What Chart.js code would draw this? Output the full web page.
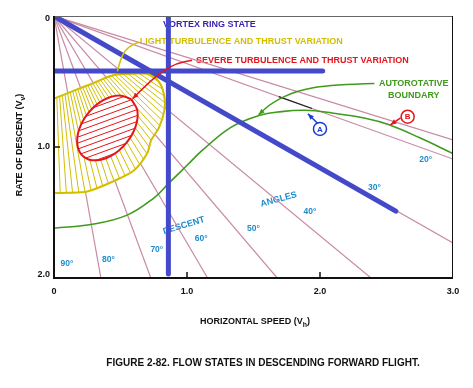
<!DOCTYPE html>
<html>
<head>
<meta charset="utf-8">
<script src="https://cdn.jsdelivr.net/npm/chart.js@4.4.1/dist/chart.umd.min.js"></script>
<style>html,body{margin:0;padding:0;background:#fff}canvas{display:block}</style>
</head>
<body>
<canvas id="flow_states_chart" width="473" height="388"></canvas>
<script>
// axes
const xTicks = [0, 1, 2, 3];
const xTickLabels = ['0', '1.0', '2.0', '3.0'];
const yTicks = [0, 1, 2];
const yTickLabels = ['0', '1.0', '2.0'];

// descent angle lines (deg below horizontal) and their labels
const descentAngles = [17.5, 20, 30, 40, 50, 60, 70, 80];
const angleLabels = ['20°', '30°', '40°', '50°', '60°', '70°', '80°', '90°'];

// vortex ring state boundaries
const vrsDiagonal = [[0, 0], [2.57, 1.49]];
const vrsHorizontal = [[0, 0.42], [2.02, 0.42]];
const vrsVertical = [[0.86, 0], [0.86, 1.97]];

// autorotative boundary
const autorotX = [0, 0.29, 0.55, 0.75, 0.86, 1.01, 1.11, 1.33, 1.54, 1.71, 1.89, 2.09, 2.34, 2.52, 2.75, 3.0];
const autorotY = [1.62, 1.59, 1.52, 1.39, 1.28, 1.13, 1.03, 0.85, 0.76, 0.73, 0.72, 0.74, 0.78, 0.83, 0.93, 1.05];

// light turbulence region outline
const lightX = [0, 0.15, 0.30, 0.45, 0.60, 0.73, 0.80, 0.83, 0.83, 0.79, 0.73, 0.70, 0.60, 0.45, 0.25, 0.10, 0];
const lightY = [0.63, 0.57, 0.51, 0.45, 0.44, 0.45, 0.52, 0.62, 0.72, 0.85, 0.95, 1.05, 1.18, 1.26, 1.34, 1.35, 1.35];

// severe turbulence region outline
const severeX = [0.582, 0.627, 0.612, 0.541, 0.432, 0.315, 0.221, 0.176, 0.191, 0.262, 0.371, 0.488, 0.582];
const severeY = [0.636, 0.725, 0.848, 0.972, 1.066, 1.102, 1.072, 0.983, 0.860, 0.735, 0.642, 0.606, 0.636];

// dark stretch of the 20 deg line near point A
const darkStretch = [1.69, 1.94];

const BLUE = '#4349c9';
const PINK = '#c98aa6';
const YELLOW = '#d2be00';
const RED = '#e3161c';
const GREEN = '#3f9a1e';
const CYAN = '#1f8cce';
const FONT = '"Liberation Sans", Arial, sans-serif';

const textLabels = [
    { t: 'VORTEX RING STATE', x: 0.82, y: 0.062, c: '#3b1fae', align: 'left' },
    { t: 'LIGHT TURBULENCE AND THRUST VARIATION', x: 0.644, y: 0.196, c: YELLOW, align: 'left' },
    { t: 'SEVERE TURBULENCE AND THRUST VARIATION', x: 1.068, y: 0.338, c: RED, align: 'left' },
    { t: 'AUTOROTATIVE', x: 2.705, y: 0.519, c: GREEN, align: 'center' },
    { t: 'BOUNDARY', x: 2.705, y: 0.604, c: GREEN, align: 'center' },
    { t: 'DESCENT', x: 0.977, y: 1.6, c: CYAN, align: 'center', rot: -17 },
    { t: 'ANGLES', x: 1.689, y: 1.4, c: CYAN, align: 'center', rot: -15 }
];
const angleLabelPos = [[2.795, 1.10], [2.409, 1.308], [1.924, 1.492], [1.5, 1.623], [1.106, 1.70], [0.773, 1.785], [0.409, 1.862], [0.098, 1.892]];

const leaders = [
    { pts: [[0.591, 0.631], [0.712, 0.508], [0.826, 0.415], [0.924, 0.362], [1.038, 0.338]], c: RED, head: 'start' },
    { pts: [[0.477, 0.423], [0.5, 0.323], [0.553, 0.238], [0.636, 0.2]], c: YELLOW },
    { pts: [[2.409, 0.515], [2.091, 0.523], [1.826, 0.569], [1.636, 0.662], [1.538, 0.754]], c: GREEN, head: 'end' },
    { pts: [[1.985, 0.823], [1.909, 0.746]], c: '#1b3dcf', head: 'end' },
    { pts: [[2.606, 0.777], [2.530, 0.831]], c: RED, head: 'end' }
];
const markers = [
    { t: 'A', x: 2.0, y: 0.862, c: '#1b3dcf' },
    { t: 'B', x: 2.659, y: 0.769, c: RED }
];

const toPts = (xs, ys) => xs.map((x, i) => ({ x: x, y: ys[i] }));
const pairs = (arr) => arr.map((p) => ({ x: p[0], y: p[1] }));

function angleLine(a) {
    const t = Math.tan(a * Math.PI / 180);
    const xEnd = Math.min(3, 2 / t);
    return [{ x: 0, y: 0 }, { x: xEnd, y: xEnd * t }];
}

const datasets = [];
[vrsDiagonal, vrsHorizontal, vrsVertical].forEach((l) => {
    datasets.push({ label: 'vrs', data: pairs(l), borderColor: BLUE, borderWidth: 5, borderCapStyle: 'round', order: 0 });
});
datasets.push({ label: 'severe', data: toPts(severeX, severeY), borderColor: RED, borderWidth: 2, tension: 0.4, fill: 'shape', backgroundColor: '#ffffff', order: 1 });
datasets.push({ label: 'light', data: toPts(lightX, lightY), borderColor: YELLOW, borderWidth: 2, tension: 0.3, fill: 'shape', backgroundColor: '#ffffff', order: 2 });
datasets.push({ label: 'autorot', data: toPts(autorotX, autorotY), borderColor: GREEN, borderWidth: 1.6, tension: 0.4, order: 3 });
const t20 = Math.tan(20 * Math.PI / 180);
datasets.push({ label: 'dark', data: darkStretch.map((x) => ({ x: x, y: x * t20 })), borderColor: '#222', borderWidth: 1.2, order: 4 });
descentAngles.forEach((a) => {
    datasets.push({ label: 'angle', data: angleLine(a), borderColor: PINK, borderWidth: 1.2, order: 5 });
});

function hatch(chart, meta, kind) {
    const ctx = chart.ctx;
    const a = chart.chartArea;
    const xs = chart.scales.x, ys = chart.scales.y;
    ctx.save();
    ctx.beginPath();
    ctx.rect(a.left, a.top, a.right - a.left, a.bottom - a.top);
    ctx.clip();
    ctx.beginPath();
    meta.dataset.path(ctx);
    ctx.closePath();
    ctx.clip();
    ctx.lineWidth = 1;
    ctx.beginPath();
    if (kind === 'light') {
        ctx.strokeStyle = YELLOW;
        const ox = xs.getPixelForValue(0), oy = ys.getPixelForValue(0);
        for (let ang = 26; ang <= 90; ang += 2) {
            const r = ang * Math.PI / 180;
            ctx.moveTo(ox, oy);
            ctx.lineTo(ox + 400 * Math.cos(r), oy + 400 * Math.sin(r));
        }
    } else {
        ctx.strokeStyle = RED;
        const pts = meta.data;
        let cx = 0, cy = 0;
        pts.forEach((p) => { cx += p.x; cy += p.y; });
        cx /= pts.length; cy /= pts.length;
        const r = -20 * Math.PI / 180;
        const dx = Math.cos(r), dy = Math.sin(r);
        for (let k = -12; k <= 12; k++) {
            const px = cx - dy * k * 5.6, py = cy + dx * k * 5.6;
            ctx.moveTo(px - dx * 80, py - dy * 80);
            ctx.lineTo(px + dx * 80, py + dy * 80);
        }
    }
    ctx.stroke();
    ctx.restore();
}

function arrowHead(ctx, fx, fy, tx, ty, color) {
    const ang = Math.atan2(ty - fy, tx - fx);
    ctx.fillStyle = color;
    ctx.beginPath();
    ctx.moveTo(tx, ty);
    ctx.lineTo(tx - 6 * Math.cos(ang) + 2.5 * Math.sin(ang), ty - 6 * Math.sin(ang) - 2.5 * Math.cos(ang));
    ctx.lineTo(tx - 6 * Math.cos(ang) - 2.5 * Math.sin(ang), ty - 6 * Math.sin(ang) + 2.5 * Math.cos(ang));
    ctx.closePath();
    ctx.fill();
}

function subText(ctx, parts, x, y, size) {
    ctx.font = 'bold ' + size + 'px ' + FONT;
    const w0 = ctx.measureText(parts[0]).width;
    const w2 = ctx.measureText(parts[2]).width;
    ctx.font = 'bold ' + (size - 2) + 'px ' + FONT;
    const w1 = ctx.measureText(parts[1]).width;
    let sx = x - (w0 + w1 + w2) / 2;
    ctx.textAlign = 'left';
    ctx.textBaseline = 'middle';
    ctx.font = 'bold ' + size + 'px ' + FONT;
    ctx.fillText(parts[0], sx, y);
    ctx.font = 'bold ' + (size - 2) + 'px ' + FONT;
    ctx.fillText(parts[1], sx + w0, y + 3);
    ctx.font = 'bold ' + size + 'px ' + FONT;
    ctx.fillText(parts[2], sx + w0 + w1, y);
}

const diagramPlugin = {
    id: 'diagram',
    beforeDatasetsDraw(chart) {
        const ctx = chart.ctx;
        const xs = chart.scales.x, ys = chart.scales.y;
        ctx.save();
        ctx.textBaseline = 'middle';
        textLabels.forEach((l) => {
            ctx.save();
            ctx.translate(xs.getPixelForValue(l.x), ys.getPixelForValue(l.y));
            if (l.rot) ctx.rotate(l.rot * Math.PI / 180);
            ctx.font = 'bold 9px ' + FONT;
            ctx.fillStyle = l.c;
            ctx.textAlign = l.align;
            ctx.fillText(l.t, 0, 0);
            ctx.restore();
        });
        ctx.font = 'bold 8.5px ' + FONT;
        ctx.fillStyle = CYAN;
        ctx.textAlign = 'center';
        angleLabels.forEach((t, i) => {
            ctx.fillText(t, xs.getPixelForValue(angleLabelPos[i][0]), ys.getPixelForValue(angleLabelPos[i][1]));
        });
        ctx.restore();
    },
    afterDatasetDraw(chart, args) {
        const label = chart.data.datasets[args.index].label;
        if (label === 'light' || label === 'severe') hatch(chart, args.meta, label);
    },
    afterDatasetsDraw(chart) {
        const ctx = chart.ctx;
        const xs = chart.scales.x, ys = chart.scales.y;
        ctx.save();
        leaders.forEach((l) => {
            const p = l.pts.map((q) => [xs.getPixelForValue(q[0]), ys.getPixelForValue(q[1])]);
            ctx.strokeStyle = l.c;
            ctx.lineWidth = 1.5;
            ctx.lineJoin = 'round';
            ctx.beginPath();
            ctx.moveTo(p[0][0], p[0][1]);
            for (let i = 1; i < p.length - 1; i++) {
                const mx = (p[i][0] + p[i + 1][0]) / 2, my = (p[i][1] + p[i + 1][1]) / 2;
                ctx.quadraticCurveTo(p[i][0], p[i][1], mx, my);
            }
            ctx.lineTo(p[p.length - 1][0], p[p.length - 1][1]);
            ctx.stroke();
            const n = p.length - 1;
            if (l.head === 'start') arrowHead(ctx, p[1][0], p[1][1], p[0][0], p[0][1], l.c);
            if (l.head === 'end') arrowHead(ctx, p[n - 1][0], p[n - 1][1], p[n][0], p[n][1], l.c);
        });
        markers.forEach((m) => {
            const x = xs.getPixelForValue(m.x), y = ys.getPixelForValue(m.y);
            ctx.beginPath();
            ctx.arc(x, y, 6.5, 0, Math.PI * 2);
            ctx.fillStyle = '#fff';
            ctx.fill();
            ctx.lineWidth = 1.5;
            ctx.strokeStyle = m.c;
            ctx.stroke();
            ctx.fillStyle = m.c;
            ctx.font = 'bold 8px ' + FONT;
            ctx.textAlign = 'center';
            ctx.textBaseline = 'middle';
            ctx.fillText(m.t, x, y + 0.5);
        });
        ctx.restore();
    },
    afterDraw(chart) {
        const ctx = chart.ctx;
        const a = chart.chartArea;
        const xs = chart.scales.x, ys = chart.scales.y;
        ctx.save();
        // frame
        ctx.strokeStyle = '#666';
        ctx.lineWidth = 1;
        ctx.beginPath();
        ctx.moveTo(a.left, a.top + 0.5);
        ctx.lineTo(a.right, a.top + 0.5);
        ctx.stroke();
        ctx.strokeStyle = '#111';
        ctx.beginPath();
        ctx.moveTo(a.right - 0.5, a.top);
        ctx.lineTo(a.right - 0.5, a.bottom);
        ctx.stroke();
        ctx.lineWidth = 2;
        ctx.beginPath();
        ctx.moveTo(a.left, a.top);
        ctx.lineTo(a.left, a.bottom);
        ctx.lineTo(a.right, a.bottom);
        ctx.stroke();
        // inside ticks
        ctx.lineWidth = 1.5;
        ctx.beginPath();
        xTicks.slice(1, -1).forEach((v) => {
            const x = xs.getPixelForValue(v);
            ctx.moveTo(x, a.bottom);
            ctx.lineTo(x, a.bottom - 6);
        });
        yTicks.slice(1, -1).forEach((v) => {
            const y = ys.getPixelForValue(v);
            ctx.moveTo(a.left, y);
            ctx.lineTo(a.left + 6, y);
        });
        ctx.stroke();
        // tick labels
        ctx.fillStyle = '#111';
        ctx.font = 'bold 9px ' + FONT;
        ctx.textBaseline = 'middle';
        ctx.textAlign = 'center';
        xTicks.forEach((v, i) => ctx.fillText(xTickLabels[i], xs.getPixelForValue(v), a.bottom + 14));
        ctx.textAlign = 'right';
        yTicks.forEach((v, i) => {
            const y = Math.min(Math.max(ys.getPixelForValue(v), a.top + 3), a.bottom - 3);
            ctx.fillText(yTickLabels[i], a.left - 4, y);
        });
        // axis titles
        subText(ctx, ['HORIZONTAL SPEED (V', 'h', ')'], 255, 322, 9);
        ctx.save();
        ctx.translate(20, 145);
        ctx.rotate(-Math.PI / 2);
        subText(ctx, ['RATE OF DESCENT (V', 'v', ')'], 0, 0, 9);
        ctx.restore();
        // caption
        ctx.font = 'bold 10px ' + FONT;
        ctx.textAlign = 'center';
        ctx.fillText('FIGURE 2-82. FLOW STATES IN DESCENDING FORWARD FLIGHT.', 263, 363);
        ctx.restore();
    }
};

const flowChart = new Chart(document.getElementById('flow_states_chart').getContext('2d'), {
    type: 'line',
    data: { datasets: datasets },
    options: {
        responsive: false,
        animation: false,
        events: [],
        parsing: true,
        elements: { point: { radius: 0 } },
        layout: { padding: { left: 54, top: 16, right: 20, bottom: 110 } },
        scales: {
            x: { type: 'linear', min: 0, max: 3, display: false },
            y: { type: 'linear', min: 0, max: 2, reverse: true, display: false }
        },
        plugins: { legend: { display: false }, tooltip: { enabled: false } }
    },
    plugins: [diagramPlugin]
});
</script>
</body>
</html>
